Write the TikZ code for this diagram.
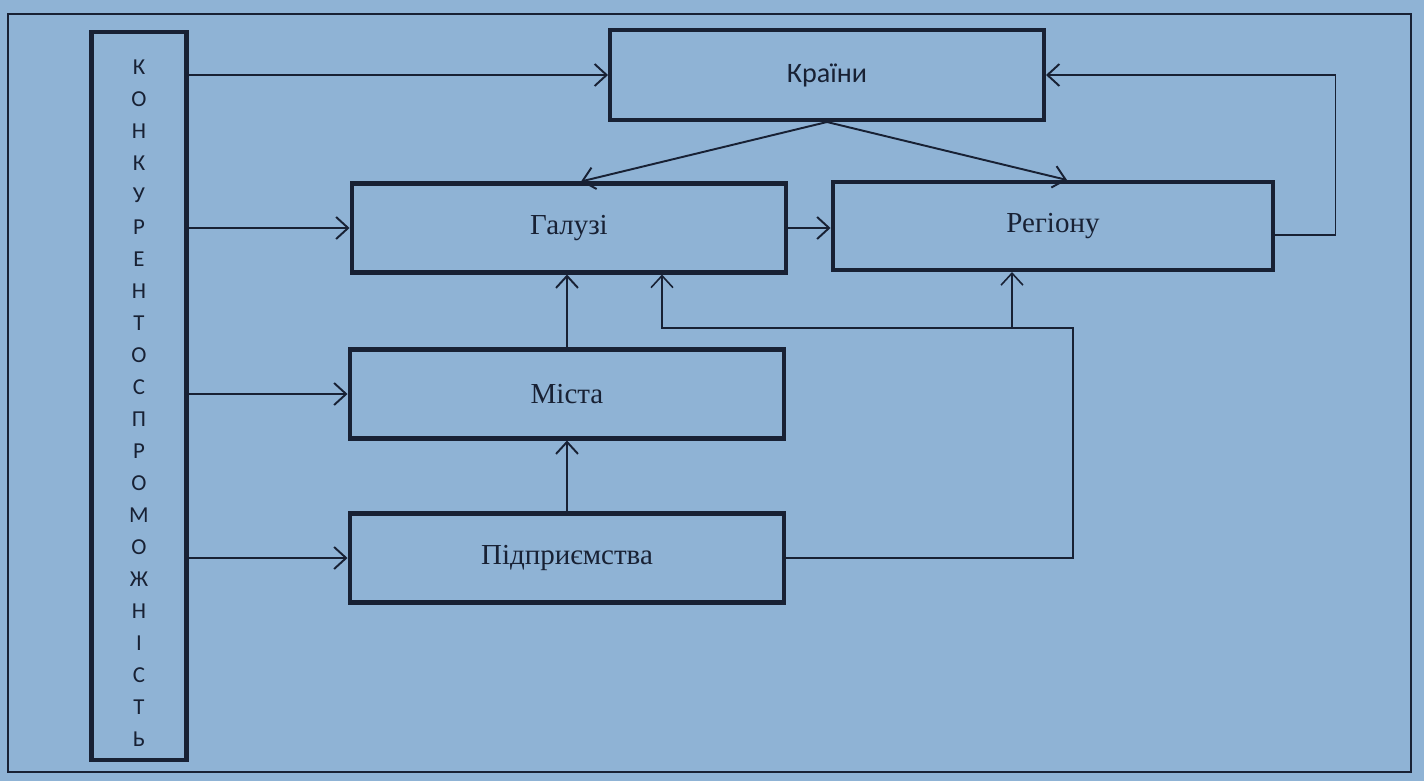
\documentclass[tikz,border=0pt]{standalone}
\usepackage{fontspec}
\setmainfont{Liberation Serif}
\newfontfamily\calibri{Carlito}
\usepackage{tikz}
\usetikzlibrary{arrows,arrows.meta,positioning,calc}

\definecolor{paper}{RGB}{143,179,213}
\definecolor{ink}{RGB}{24,33,52}

\begin{document}
\begin{tikzpicture}[x=0.02cm, y=-0.02cm,
    >={Straight Barb[length=2.4mm,width=4.4mm]},
    box/.style={draw=ink, line width=2.3pt, minimum width=8.7cm, minimum height=1.78cm, text=ink, font=\fontsize{16.5}{19}\selectfont},
    link/.style={->, draw=ink, line width=1.1pt},
    bus/.style={draw=ink, line width=0.9pt}]
    % Paper and frame
    \fill[paper] (0,0) rectangle (1424,781);
    \useasboundingbox (0,0) rectangle (1424,781);
    \draw[ink, line width=1.1pt] (8,14) rectangle (1411,772);

    % Vertical box on the left
    \node[draw=ink, line width=2.3pt, minimum width=1.9cm, minimum height=14.56cm] (konk) at (139,396) {};
    \node[text=ink, align=center, font=\calibri\fontsize{13}{18.2}\selectfont] (konkword) at (139,403)
        {К\\О\\Н\\К\\У\\Р\\Е\\Н\\Т\\О\\С\\П\\Р\\О\\М\\О\\Ж\\Н\\І\\С\\Т\\Ь};

    % Boxes for the levels
    \node[box, minimum width=8.68cm, minimum height=1.8cm, font=\calibri\fontsize{16}{19}\selectfont] (krainy) at (827,75) {Країни};
    \node[box] (haluzi) at (569,228) {Галузі};
    \node[box, minimum width=8.82cm, minimum height=1.76cm] (rehionu) at (1053,226) {Регіону};
    \node[box] (mista) at (567,394) {Міста};
    \node[box] (pidpr) at (567,558) {Підприємства};

    % Arrows from the left box
    \draw[link] (konk.east |- krainy.west) -- (krainy.west);
    \draw[link] (konk.east |- haluzi.west) -- (haluzi.west);
    \draw[link] (konk.east |- mista.west) -- (mista.west);
    \draw[link] (konk.east |- pidpr.west) -- (pidpr.west);

    % Arrows between the levels
    \draw[link] (krainy.south) -- ($(haluzi.north)+(12,0)$);
    \draw[link] (krainy.south) -- ($(rehionu.north)+(14,0)$);
    \draw[link] (haluzi.east) -- (haluzi.east -| rehionu.west);
    \draw[link] ($(rehionu.east)+(0,9)$) -- ++(60,0) |- (krainy.east);
    \draw[link] (mista.north) -- (mista.north |- haluzi.south);
    \draw[link] (pidpr.north) -- (pidpr.north |- mista.south);

    % Line from the enterprises up to industry and region
    \coordinate (busr) at (1073,328);
    \coordinate (busl) at (662,328);
    \coordinate (busreg) at (1012,328);
    \draw[bus, ->] (pidpr.east) -| (busr) -- (busl) -- (busl |- haluzi.south);
    \draw[bus, ->] (busreg) -- (busreg |- rehionu.south);
\end{tikzpicture}
\end{document}
